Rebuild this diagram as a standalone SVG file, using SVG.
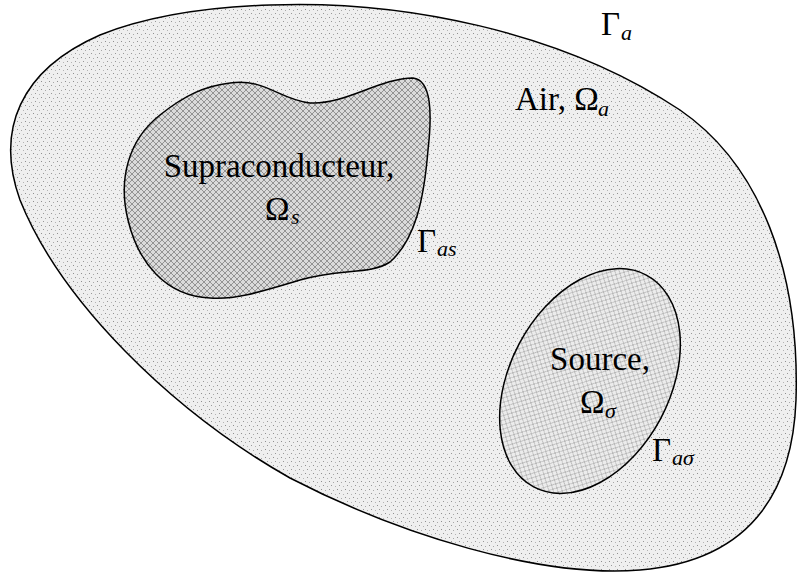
<svg xmlns="http://www.w3.org/2000/svg" width="798" height="573" viewBox="0 0 798 573">
<defs>
<pattern id="stipple" width="8" height="8" patternUnits="userSpaceOnUse">
<rect width="8" height="8" fill="#efefef"/>
<rect x="1" y="1" width="1" height="1" fill="#909090"/>
<rect x="5" y="2" width="1" height="1" fill="#a8a8a8"/>
<rect x="3" y="5" width="1" height="1" fill="#989898"/>
<rect x="7" y="6" width="1" height="1" fill="#b4b4b4"/>
</pattern>
<pattern id="hatchDark" width="6" height="6" patternUnits="userSpaceOnUse">
<rect width="6" height="6" fill="#dadada"/>
<path d="M0,0 L6,6 M6,0 L0,6" stroke="#939393" stroke-width="1"/>
</pattern>
<pattern id="hatchLight" width="6" height="6" patternUnits="userSpaceOnUse">
<rect width="6" height="6" fill="#ececec"/>
<path d="M0,0 L6,6 M6,0 L0,6" stroke="#b8b8b8" stroke-width="1"/>
</pattern>
</defs>
<style>
.outline{stroke:#000;stroke-width:1.5;}
text{font-family:'Liberation Serif','Times New Roman',Times,'DejaVu Serif','Noto Serif',serif;fill:#000;}
.lbl{font-size:33px;}
.sub{font-size:22px;font-style:italic;}
</style>
<rect width="798" height="573" fill="#ffffff"/>
<g id="air">
<path class="outline" fill="url(#stipple)" d="M 270,5 C 400,0 560,30 680,110 C 760,165 800,270 796,400 C 793,480 760,560 640,570 C 540,578 400,535 290,478 C 170,410 60,300 20,200 C -5,130 20,70 100,35 C 150,15 210,7 270,5 Z"/>
<text class="lbl" x="515" y="110">Air, Ω</text>
<text class="sub" x="598" y="116">a</text>
<text class="lbl" x="601" y="35">Γ</text>
<text class="sub" x="621" y="40">a</text>
</g>
<g id="supraconducteur">
<path class="outline" fill="url(#hatchDark)" d="M 230,83 C 265,78 280,100 310,103 C 345,105 380,78 413,78 C 432,80 432,115 428,150 C 424,200 415,240 390,262 C 370,275 340,268 300,280 C 260,292 235,300 210,298 C 165,296 138,262 128,220 C 118,180 128,140 160,115 C 185,95 205,86 230,83 Z"/>
<text class="lbl" x="279" y="177" text-anchor="middle">Supraconducteur,</text>
<text class="lbl" x="265" y="220">Ω</text>
<text class="sub" x="291" y="224">s</text>
<text class="lbl" x="417" y="252">Γ</text>
<text class="sub" x="437" y="256">as</text>
</g>
<g id="source">
<ellipse class="outline" fill="url(#hatchLight)" cx="590" cy="381" rx="120" ry="80" transform="rotate(-62 590 381)"/>
<text class="lbl" x="600" y="370" text-anchor="middle">Source,</text>
<text class="lbl" x="580" y="413">Ω</text>
<text class="sub" x="605" y="418">σ</text>
<text class="lbl" x="652" y="461">Γ</text>
<text class="sub" x="672" y="465">aσ</text>
</g>
<g id="connectors"/>
</svg>
